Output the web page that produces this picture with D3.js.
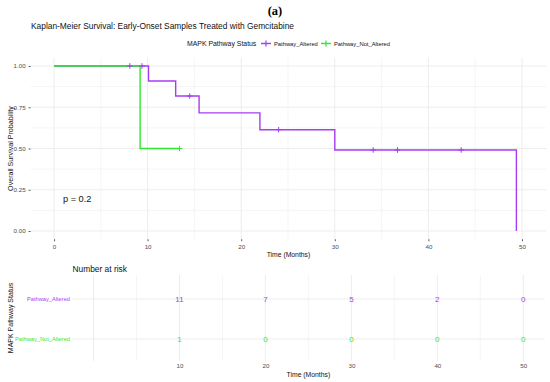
<!DOCTYPE html>
<html>
<head>
<meta charset="utf-8">
<script src="https://cdn.jsdelivr.net/npm/d3@7"></script>
<style>
  html, body { margin: 0; padding: 0; background: #fff; }
  svg { display: block; font-family: "Liberation Sans", Arial, sans-serif; }
</style>
</head>
<body>
<svg id="chart" width="550" height="382"></svg>
<script>
// ---------------- data ----------------
const groups = ["Pathway_Altered", "Pathway_Not_Altered"];
const groupColors = ["#A53EF2", "#2EE82E"];
// step curve: time of each step start and survival value after the step
const alteredTimes = [0, 10.1, 13.0, 15.5, 22.0, 30.0, 49.4];
const alteredSurv  = [1.0, 0.909, 0.818, 0.716, 0.614, 0.491, 0.0];
const alteredEnd = 49.4;
const alteredCensor = [8.1, 9.4, 14.5, 24.0, 34.1, 36.7, 43.5];
const notAlteredTimes = [0, 9.2];
const notAlteredSurv  = [1.0, 0.5];
const notAlteredEnd = 13.4;
const notAlteredCensor = [13.4];
const xTicks = [0, 10, 20, 30, 40, 50];
const yTicks = [0, 0.25, 0.5, 0.75, 1.0];
const riskTimes = [10, 20, 30, 40, 50];
const alteredRisk = [11, 7, 5, 2, 0];
const notAlteredRisk = [1, 0, 0, 0, 0];
const pText = "p = 0.2";

// ---------------- setup ----------------
const svg = d3.select("#chart");
const grid = "#ebebeb";
const axisText = "#4d4d4d";
const sans = "'Liberation Sans', Arial, sans-serif";

// titles
svg.append("text").attr("x", 275).attr("y", 14.5).attr("text-anchor", "middle")
  .style("font-family", "'Liberation Serif', 'DejaVu Serif', serif").style("font-weight", "bold")
  .style("font-size", "12.5px").text("(a)");
svg.append("text").attr("x", 31).attr("y", 29).style("font-size", "8.4px").attr("fill", "#111")
  .text("Kaplan-Meier Survival: Early-Onset Samples Treated with Gemcitabine");

// legend
const leg = svg.append("g");
leg.append("text").attr("x", 187).attr("y", 45.8).style("font-size", "6.9px").attr("fill", "#111").text("MAPK Pathway Status");
const legItems = [{x: 261, tx: 274}, {x: 321, tx: 334}];
groups.forEach((g, i) => {
  const it = legItems[i];
  leg.append("line").attr("x1", it.x).attr("x2", it.x + 10).attr("y1", 43.5).attr("y2", 43.5)
    .attr("stroke", groupColors[i]).attr("stroke-width", 1.4);
  leg.append("line").attr("x1", it.x + 5).attr("x2", it.x + 5).attr("y1", 40.5).attr("y2", 46.5)
    .attr("stroke", groupColors[i]).attr("stroke-width", 1.2);
  leg.append("text").attr("x", it.tx).attr("y", 45.5).style("font-size", "5.8px").attr("fill", "#111").text(g);
});

// ---------------- main KM panel ----------------
const x = d3.scaleLinear().domain([0, 50]).range([54, 522]);
const y = d3.scaleLinear().domain([0, 1]).range([231, 66]);
const px0 = x(-2.5), px1 = x(52.6), py0 = y(1.05), py1 = y(-0.05);

const gMain = svg.append("g");
// minor grid
d3.range(5, 50, 10).forEach(t => gMain.append("line").attr("x1", x(t)).attr("x2", x(t)).attr("y1", py0).attr("y2", py1)
  .attr("stroke", grid).attr("stroke-width", 0.5));
d3.range(0.125, 1, 0.25).forEach(t => gMain.append("line").attr("x1", px0).attr("x2", px1).attr("y1", y(t)).attr("y2", y(t))
  .attr("stroke", grid).attr("stroke-width", 0.5));
// major grid
xTicks.forEach(t => gMain.append("line").attr("x1", x(t)).attr("x2", x(t)).attr("y1", py0).attr("y2", py1)
  .attr("stroke", grid).attr("stroke-width", 0.9));
yTicks.forEach(t => gMain.append("line").attr("x1", px0).attr("x2", px1).attr("y1", y(t)).attr("y2", y(t))
  .attr("stroke", grid).attr("stroke-width", 0.9));

// axes via d3
const xAxis = d3.axisBottom(x).tickValues(xTicks).tickSize(2).tickPadding(3).tickFormat(d3.format("d"));
const gx = svg.append("g").attr("transform", `translate(0,${py1})`).call(xAxis);
gx.select(".domain").remove();
gx.selectAll("line").attr("stroke", "#333").attr("stroke-width", 0.8);
gx.selectAll("text").style("font-size", "6.2px").attr("fill", axisText).style("font-family", sans);

const yAxis = d3.axisLeft(y).tickValues(yTicks).tickSize(2).tickPadding(3).tickFormat(d3.format(".2f"));
const gy = svg.append("g").attr("transform", `translate(${px0},0)`).call(yAxis);
gy.select(".domain").remove();
gy.selectAll("line").attr("stroke", "#333").attr("stroke-width", 0.8);
gy.selectAll("text").style("font-size", "6.2px").attr("fill", axisText).style("font-family", sans);

svg.append("text").attr("x", (px0 + px1) / 2).attr("y", 256.5).attr("text-anchor", "middle")
  .style("font-size", "6.8px").attr("fill", "#111").text("Time (Months)");
svg.append("text").attr("transform", `translate(12.5,${(py0 + py1) / 2}) rotate(-90)`).attr("text-anchor", "middle")
  .style("font-size", "7.1px").attr("fill", "#111").text("Overall Survival Probability");

// step curves
function stepPoints(times, surv, end) {
  const pts = [];
  for (let i = 0; i < times.length; i++) {
    if (i > 0) pts.push([times[i], surv[i - 1]]);
    pts.push([times[i], surv[i]]);
  }
  pts.push([end, surv[surv.length - 1]]);
  return pts;
}
function survAt(times, surv, t) {
  let s = surv[0];
  for (let i = 0; i < times.length; i++) if (times[i] <= t) s = surv[i];
  return s;
}
const line = d3.line().x(d => x(d[0])).y(d => y(d[1]));
const curves = [
  {times: alteredTimes, surv: alteredSurv, end: alteredEnd, cens: alteredCensor},
  {times: notAlteredTimes, surv: notAlteredSurv, end: notAlteredEnd, cens: notAlteredCensor}
];
curves.forEach((c, i) => {
  gMain.append("path").attr("d", line(stepPoints(c.times, c.surv, c.end)))
    .attr("fill", "none").attr("stroke", groupColors[i]).attr("stroke-width", 1.4);
});
curves.forEach((c, i) => {
  c.cens.forEach(t => {
    const cx = x(t), cy = y(survAt(c.times, c.surv, t));
    gMain.append("line").attr("x1", cx).attr("x2", cx).attr("y1", cy - 2.8).attr("y2", cy + 2.8)
      .attr("stroke", groupColors[i]).attr("stroke-width", 1);
    gMain.append("line").attr("x1", cx - 2.8).attr("x2", cx + 2.8).attr("y1", cy).attr("y2", cy)
      .attr("stroke", groupColors[i]).attr("stroke-width", 1);
  });
});
svg.append("text").attr("x", 63).attr("y", 202.3).style("font-size", "9.2px").attr("fill", "#111").text(pText);

// ---------------- risk table ----------------
const xt = d3.scaleLinear().domain([0, 50]).range([93.5, 523.3]);
const yt = d3.scalePoint().domain(groups).range([299, 339]);
const tx0 = xt(-2.5), tx1 = xt(52.5), ty0 = 275, ty1 = 361;
const gT = svg.append("g");
d3.range(5, 50, 10).forEach(t => gT.append("line").attr("x1", xt(t)).attr("x2", xt(t)).attr("y1", ty0).attr("y2", ty1)
  .attr("stroke", grid).attr("stroke-width", 0.5));
xTicks.forEach(t => gT.append("line").attr("x1", xt(t)).attr("x2", xt(t)).attr("y1", ty0).attr("y2", ty1)
  .attr("stroke", grid).attr("stroke-width", 0.9));
groups.forEach(g => gT.append("line").attr("x1", tx0).attr("x2", tx1).attr("y1", yt(g)).attr("y2", yt(g))
  .attr("stroke", grid).attr("stroke-width", 0.9));

const xtAxis = d3.axisBottom(xt).tickValues(riskTimes).tickSize(0).tickPadding(3).tickFormat(d3.format("d"));
const gxt = svg.append("g").attr("transform", `translate(0,${ty1})`).call(xtAxis);
gxt.select(".domain").remove();
gxt.selectAll("text").style("font-size", "6.2px").attr("fill", axisText).style("font-family", sans);

const ytAxis = d3.axisLeft(yt).tickSize(0).tickPadding(2);
const gyt = svg.append("g").attr("transform", `translate(${tx0},0)`).call(ytAxis);
gyt.select(".domain").remove();
gyt.selectAll("text").style("font-size", "5.7px").style("font-family", sans)
  .attr("fill", d => groupColors[groups.indexOf(d)]);

svg.append("text").attr("x", 72.5).attr("y", 271.5).style("font-size", "8.4px").attr("fill", "#111").text("Number at risk");
svg.append("text").attr("x", (tx0 + tx1) / 2).attr("y", 377.3).attr("text-anchor", "middle")
  .style("font-size", "6.8px").attr("fill", "#111").text("Time (Months)");
svg.append("text").attr("transform", `translate(12.5,318) rotate(-90)`).attr("text-anchor", "middle")
  .style("font-size", "7px").attr("fill", "#111").text("MAPK Pathway Status");

const riskRows = [alteredRisk, notAlteredRisk];
riskRows.forEach((row, gi) => {
  row.forEach((v, j) => {
    gT.append("text").attr("x", xt(riskTimes[j])).attr("y", yt(groups[gi]) + 2.9).attr("text-anchor", "middle")
      .style("font-size", "8px").attr("fill", groupColors[gi]).text(v);
  });
});
</script>
</body>
</html>
